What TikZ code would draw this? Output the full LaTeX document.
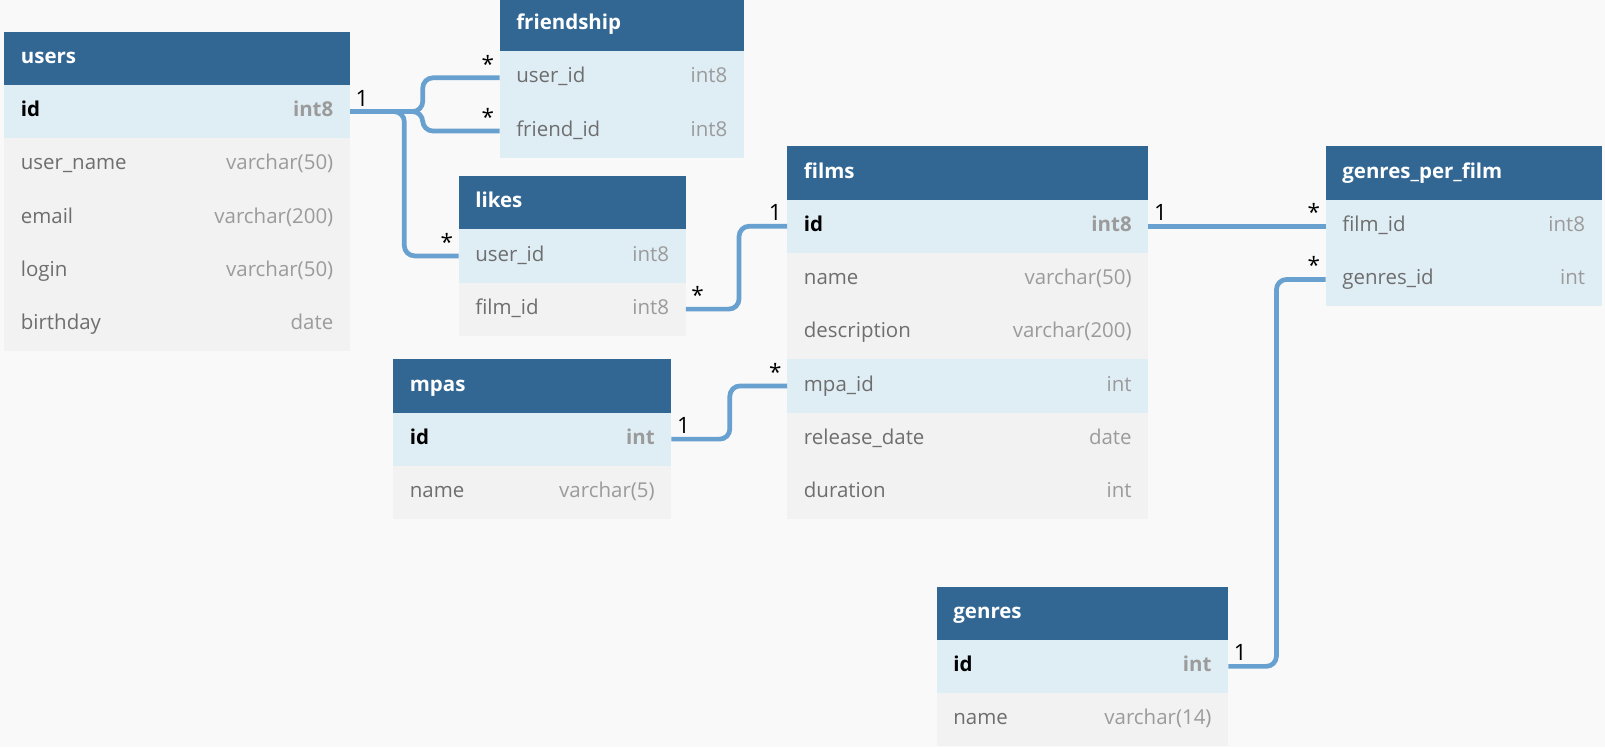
\documentclass[tikz,border=0pt]{standalone}
\usepackage{fontspec}
\setmainfont{Open Sans}
\usetikzlibrary{positioning}

\definecolor{hdblue}{HTML}{326793}
\definecolor{rowblue}{HTML}{DFEDF5}
\definecolor{rowgray}{HTML}{F2F2F2}
\definecolor{bggray}{HTML}{F9F9F9}
\definecolor{linkblue}{HTML}{68A0D0}
\definecolor{fldgray}{HTML}{6E6E6E}
\definecolor{typgray}{HTML}{9B9B9B}

% 表头: 节点名, 左上角, 宽度, 表名
\newcommand{\tabhead}[4]{%
  \node[hd, minimum width=#3] (#1) at (#2) {};
  \node[ttl] at ([xshift=8pt]#1.west) {#4};
}
% 字段行: 节点名, 上一行, 底色, 宽度, 文字样式, 字段, 类型
\newcommand{\tabrow}[7]{%
  \node[#3, minimum width=#4, below=0pt of #2] (#1) {};
  \node[#5, anchor=west] at ([xshift=8pt]#1.west) {#6};
  \node[#5 type, anchor=east] at ([xshift=-8pt]#1.east) {#7};
}

\begin{document}
\begin{tikzpicture}[x=0.5pt, y=-0.5pt,
	cell/.style={inner sep=0, outer sep=0, minimum height=26pt},
	hd/.style={cell, fill=hdblue, anchor=north west},
	hl/.style={cell, fill=rowblue},
	pl/.style={cell, fill=rowgray},
	txt/.style={inner sep=0, text height=7.6pt, text depth=2.6pt, font=\fontsize{10}{12}\selectfont},
	ttl/.style={txt, anchor=west, text=white, font=\fontsize{10}{12}\selectfont\bfseries},
	key/.style={txt, text=black, font=\fontsize{10}{12}\selectfont\bfseries},
	key type/.style={key, text=typgray},
	fld/.style={txt, text=fldgray},
	fld type/.style={txt, text=typgray},
	link/.style={draw=linkblue, line width=2.3pt, rounded corners=5pt},
	cardR/.style={inner sep=0, font=\fontsize{11}{13}\selectfont, anchor=south west, xshift=2.5pt, yshift=2.5pt},
	cardL/.style={inner sep=0, font=\fontsize{11}{13}\selectfont, anchor=south east, xshift=-2.5pt, yshift=2.5pt}]
	
	% 背景与边界
	\useasboundingbox (0,0) rectangle (1568,730);
	\fill[bggray] (0,0) rectangle (1568,730);
	
	% users
	\tabhead{users}{4,31}{169pt}{users}
	\tabrow{users-id}{users}{hl}{169pt}{key}{id}{int8}
	\tabrow{users-name}{users-id}{pl}{169pt}{fld}{user\_name}{varchar(50)}
	\tabrow{users-mail}{users-name}{pl}{169pt}{fld}{email}{varchar(200)}
	\tabrow{users-login}{users-mail}{pl}{169pt}{fld}{login}{varchar(50)}
	\tabrow{users-bday}{users-login}{pl}{169pt}{fld}{birthday}{date}
	
	% friendship
	\tabhead{fr}{488,-2}{119.5pt}{friendship}
	\tabrow{fr-uid}{fr}{hl}{119.5pt}{fld}{user\_id}{int8}
	\tabrow{fr-fid}{fr-uid}{hl}{119.5pt}{fld}{friend\_id}{int8}
	
	% likes
	\tabhead{lk}{448,172}{111pt}{likes}
	\tabrow{lk-uid}{lk}{hl}{111pt}{fld}{user\_id}{int8}
	\tabrow{lk-fid}{lk-uid}{pl}{111pt}{fld}{film\_id}{int8}
	
	% films
	\tabhead{fm}{769,143}{176.5pt}{films}
	\tabrow{fm-id}{fm}{hl}{176.5pt}{key}{id}{int8}
	\tabrow{fm-name}{fm-id}{pl}{176.5pt}{fld}{name}{varchar(50)}
	\tabrow{fm-desc}{fm-name}{pl}{176.5pt}{fld}{description}{varchar(200)}
	\tabrow{fm-mpa}{fm-desc}{hl}{176.5pt}{fld}{mpa\_id}{int}
	\tabrow{fm-date}{fm-mpa}{pl}{176.5pt}{fld}{release\_date}{date}
	\tabrow{fm-dur}{fm-date}{pl}{176.5pt}{fld}{duration}{int}
	
	% genres_per_film
	\tabhead{gpf}{1295,143}{135pt}{genres\_per\_film}
	\tabrow{gpf-fid}{gpf}{hl}{135pt}{fld}{film\_id}{int8}
	\tabrow{gpf-gid}{gpf-fid}{hl}{135pt}{fld}{genres\_id}{int}
	
	% mpas
	\tabhead{ms}{384,351}{136pt}{mpas}
	\tabrow{ms-id}{ms}{hl}{136pt}{key}{id}{int}
	\tabrow{ms-name}{ms-id}{pl}{136pt}{fld}{name}{varchar(5)}
	
	% genres
	\tabhead{gn}{915,573}{142.5pt}{genres}
	\tabrow{gn-id}{gn}{hl}{142.5pt}{key}{id}{int}
	\tabrow{gn-name}{gn-id}{pl}{142.5pt}{fld}{name}{varchar(14)}
	
	% 连线
	\draw[link] (users-id.east) -- ++(35.5pt,0) |- (fr-uid.west);
	\draw[link] (users-id.east) -- ++(35.5pt,0) |- (fr-fid.west);
	\draw[link] (users-id.east) -- ++(26.5pt,0) |- (lk-uid.west);
	\draw[link] (lk-fid.east) -- ++(26pt,0) |- (fm-id.west);
	\draw[link] (ms-id.east) -- ++(28.5pt,0) |- (fm-mpa.west);
	\draw[link] (fm-id.east) -- (gpf-fid.west);
	\draw[link] (gn-id.east) -- ++(23.5pt,0) |- (gpf-gid.west);
	
	% 对应关系
	\node[cardR] at (users-id.east) {1};
	\node[cardL] at (fr-uid.west) {*};
	\node[cardL] at (fr-fid.west) {*};
	\node[cardL] at (lk-uid.west) {*};
	\node[cardR] at (lk-fid.east) {*};
	\node[cardL] at (fm-id.west) {1};
	\node[cardR] at (ms-id.east) {1};
	\node[cardL] at (fm-mpa.west) {*};
	\node[cardR] at (fm-id.east) {1};
	\node[cardL] at (gpf-fid.west) {*};
	\node[cardL] at (gpf-gid.west) {*};
	\node[cardR] at (gn-id.east) {1};
	
\end{tikzpicture}
\end{document}
